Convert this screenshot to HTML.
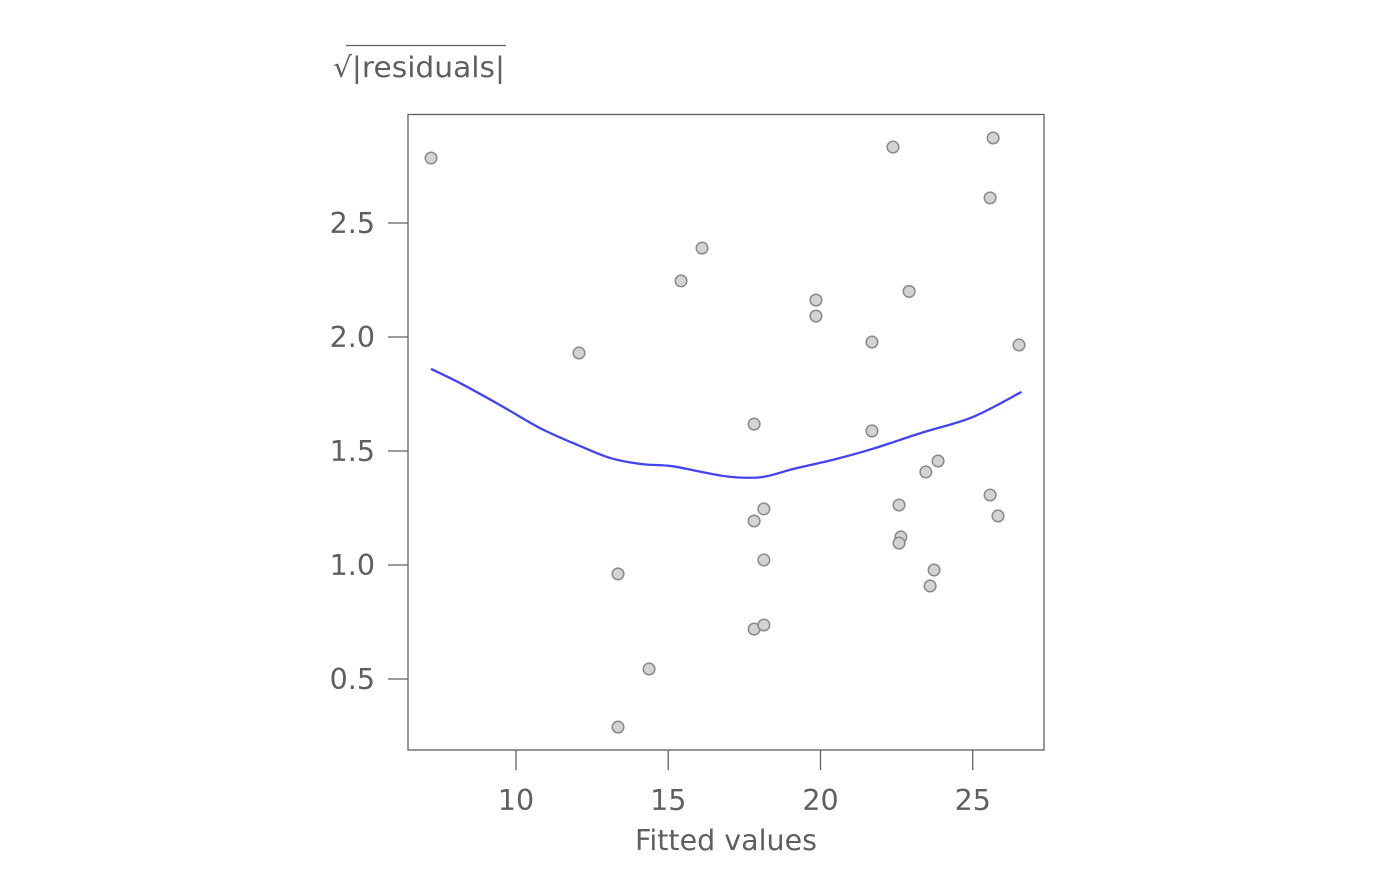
<!DOCTYPE html>
<html><head><meta charset="utf-8"><style>
body{margin:0;background:#fff;}
svg text{font-family:"DejaVu Sans","Liberation Sans",sans-serif;fill:#5f5f5f;}
</style></head><body>
<svg id="chart" width="1400" height="866" xmlns="http://www.w3.org/2000/svg">
<g id="title">
<text x="333" y="77" font-size="28.5" textLength="172" lengthAdjust="spacingAndGlyphs">√|residuals|</text>
<line x1="346" y1="45.5" x2="506" y2="45.5" stroke="#5f5f5f" stroke-width="1.3"/>
</g>
<rect x="408" y="114.5" width="636" height="635.5" fill="none" stroke="#5f5f5f" stroke-width="1.3"/>
<g id="xaxis"></g>
<g id="yaxis"></g>
<g id="smooth"></g>
<g id="pts"></g>
<text x="726" y="850" font-size="28.5" text-anchor="middle">Fitted values</text>
</svg>
<script>
const xTicks=[10,15,20,25];
const yTicks=[0.5,1.0,1.5,2.0,2.5];
const yTickLabels=["0.5","1.0","1.5","2.0","2.5"];
const fittedX=[7.21,22.38,25.67,25.57,16.11,15.42,19.85,19.85,22.91,21.69,26.52,12.07,17.82,21.69,23.46,23.86,25.57,22.58,18.14,17.82,25.83,22.64,22.58,18.14,13.35,23.73,23.60,17.82,18.14,14.37,13.35];
const sqrtResid=[2.785,2.833,2.873,2.61,2.39,2.246,2.162,2.092,2.20,1.978,1.965,1.93,1.618,1.588,1.408,1.456,1.307,1.263,1.246,1.193,1.215,1.123,1.096,1.022,0.961,0.978,0.908,0.719,0.737,0.544,0.289];
const smoothX=[7.21,8.16,9.47,10.78,12.1,13.1,14.1,15.1,16.1,17.1,18.1,19.1,20.4,21.7,23.3,25.0,26.6];
const smoothY=[1.860,1.798,1.702,1.601,1.522,1.469,1.443,1.434,1.408,1.386,1.386,1.421,1.461,1.509,1.579,1.649,1.759];
const NS="http://www.w3.org/2000/svg";
const sx=v=>516+(v-10)*30.45;
const sy=v=>223-(v-2.5)*228;
function mk(t,a,p){const e=document.createElementNS(NS,t);for(const k in a)e.setAttribute(k,a[k]);p.appendChild(e);return e;}
const xa=document.getElementById('xaxis');
xTicks.forEach(t=>{
 const l=mk('line',{x1:sx(t),x2:sx(t),y1:750,y2:770,stroke:'#5f5f5f','stroke-width':1.3},xa);
 
 
 const tx=mk('text',{x:sx(t),y:810,'font-size':28.5,'text-anchor':'middle'},xa);tx.textContent=t;
 
 
});
const ya=document.getElementById('yaxis');
yTicks.forEach((t,i)=>{
 const l=mk('line',{x1:388,x2:408,y1:sy(t),y2:sy(t),stroke:'#5f5f5f','stroke-width':1.3},ya);
 
 
 const tx=mk('text',{x:375,y:sy(t)+10,'font-size':28.5,'text-anchor':'end'},ya);tx.textContent=yTickLabels[i];
 
 
});
// Catmull-Rom smooth path
const P=smoothX.map((x,i)=>[sx(x),sy(smoothY[i])]);
let d='M'+P[0][0]+','+P[0][1];
for(let i=0;i<P.length-1;i++){
 const p0=P[Math.max(0,i-1)],p1=P[i],p2=P[i+1],p3=P[Math.min(P.length-1,i+2)];
 d+=' C'+(p1[0]+(p2[0]-p0[0])/6)+','+(p1[1]+(p2[1]-p0[1])/6)+' '+(p2[0]-(p3[0]-p1[0])/6)+','+(p2[1]-(p3[1]-p1[1])/6)+' '+p2[0]+','+p2[1];
}
const sm=mk('path',{d:d,fill:'none',stroke:'#4444ee','stroke-width':2.3},document.getElementById('smooth'));


const pg=document.getElementById('pts');
fittedX.forEach((x,i)=>{
 const c=mk('circle',{cx:sx(x),cy:sy(sqrtResid[i]),r:5.8,fill:'#d3d3d3',stroke:'#8a8a8a','stroke-width':1.5},pg);
 
 
});
</script>
</body></html>
